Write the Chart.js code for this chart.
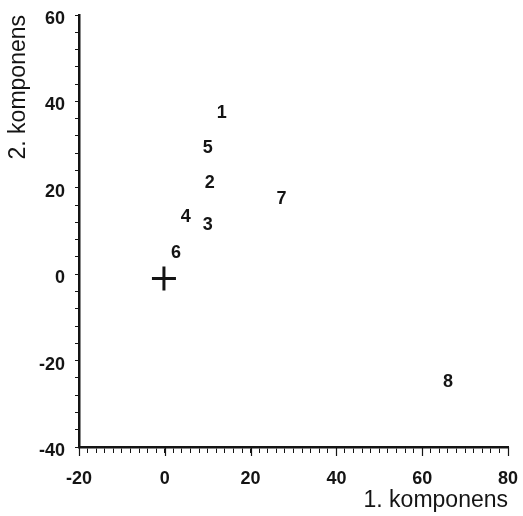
<!DOCTYPE html>
<html>
<head>
<meta charset="utf-8">
<script src="https://cdn.jsdelivr.net/npm/chart.js@4/dist/chart.umd.min.js"></script>
<style>
  html, body { margin: 0; padding: 0; background: #ffffff; }
  #wrap { width: 523px; height: 516px; }
</style>
</head>
<body>
<div id="wrap"><canvas id="c" width="523" height="516"></canvas></div>
<script>
// Score plot: first vs. second component, objects 1-8 and the origin marker
const pointLabels = ['1', '2', '3', '4', '5', '6', '7', '8'];
const comp1 = [13.3, 10.5, 10.0, 4.9, 10.0, 2.6, 27.2, 66.0];
const comp2 = [37.4, 21.0, 11.3, 13.3, 29.3, 4.8, 17.5, -25.0];

// centre marker (+)
const centreX = [-0.2];
const centreY = [-1.0];

// axis ranges and labelled ticks
const xRange = [-20, 80];
const yRange = [-40, 60];
const xMajorStep = 20, xMinorStep = 2;
const yMajorStep = 20, yMinorStep = 4;

const ink = '#141414';
const family = '"Liberation Sans", Arial, Helvetica, sans-serif';

// numbers are the markers themselves: write each label at its data position
const pointLabelPlugin = {
  id: 'pointLabels',
  afterDatasetsDraw(chart) {
    const meta = chart.getDatasetMeta(1);
    const ctx = chart.ctx;
    ctx.save();
    ctx.font = 'bold 18px ' + family;
    ctx.fillStyle = ink;
    ctx.textAlign = 'center';
    ctx.textBaseline = 'middle';
    meta.data.forEach((el, i) => {
      ctx.fillText(pointLabels[i], el.x, el.y);
    });
    ctx.restore();
  }
};

// labelled x ticks are drawn a little longer than the minor ones
const majorTickPlugin = {
  id: 'majorTicks',
  afterDraw(chart) {
    const sx = chart.scales.x;
    const ctx = chart.ctx;
    ctx.save();
    ctx.strokeStyle = ink;
    ctx.lineWidth = 1.2;
    ctx.beginPath();
    sx.ticks.forEach(t => {
      if (Math.abs(t.value % xMajorStep) < 1e-9) {
        const px = Math.round(sx.getPixelForValue(t.value)) + 0.5;
        ctx.moveTo(px, sx.top);
        ctx.lineTo(px, sx.top + 9);
      }
    });
    ctx.stroke();
    ctx.restore();
  }
};

const tickLabel = (step) => function (value) {
  return Math.abs(value % step) < 1e-9 ? String(value) : '';
};

new Chart(document.getElementById('c'), {
  type: 'scatter',
  data: {
    datasets: [
      {
        label: 'origo',
        data: centreX.map((x, i) => ({ x, y: centreY[i] })),
        pointStyle: 'cross',
        pointRadius: 12,
        pointBorderWidth: 3,
        borderColor: ink,
        backgroundColor: ink
      },
      {
        label: 'objekter',
        data: comp1.map((x, i) => ({ x, y: comp2[i] })),
        pointRadius: 0,
        pointHoverRadius: 0
      }
    ]
  },
  options: {
    responsive: false,
    animation: false,
    events: [],
    layout: { padding: { top: 14, right: 10, left: 0, bottom: 0 } },
    plugins: {
      legend: { display: false },
      tooltip: { enabled: false }
    },
    scales: {
      x: {
        type: 'linear',
        min: xRange[0],
        max: xRange[1],
        afterFit(scale) {
          scale.height = 69;
          scale.paddingLeft = 0;
          scale.paddingRight = 0;
        },
        border: { display: true, color: ink, width: 2.5 },
        grid: {
          drawOnChartArea: false,
          drawTicks: true,
          tickLength: 6,
          tickColor: ink,
          tickWidth: 1
        },
        ticks: {
          stepSize: xMinorStep,
          autoSkip: false,
          maxRotation: 0,
          padding: 15,
          color: ink,
          font: { family, size: 18, weight: 'bold' },
          callback: tickLabel(xMajorStep)
        },
        title: {
          display: true,
          text: '1. komponens',
          align: 'end',
          color: ink,
          font: { family, size: 23, weight: 'normal' },
          padding: { top: 0, bottom: 2 }
        }
      },
      y: {
        type: 'linear',
        min: yRange[0],
        max: yRange[1],
        afterFit(scale) {
          scale.width = 79;
          scale.paddingTop = 0;
          scale.paddingBottom = 0;
        },
        border: { display: true, color: ink, width: 2.5 },
        grid: {
          drawOnChartArea: false,
          drawTicks: true,
          tickLength: 4,
          tickColor: ink,
          tickWidth: 1
        },
        ticks: {
          stepSize: yMinorStep,
          autoSkip: false,
          padding: 10,
          labelOffset: 4,
          color: ink,
          font: { family, size: 18, weight: 'bold' },
          callback: tickLabel(yMajorStep)
        },
        title: {
          display: true,
          text: '2. komponens',
          align: 'end',
          color: ink,
          font: { family, size: 23, weight: 'normal' },
          padding: { top: 5, bottom: 0 }
        }
      }
    }
  },
  plugins: [pointLabelPlugin, majorTickPlugin]
});
</script>
</body>
</html>
